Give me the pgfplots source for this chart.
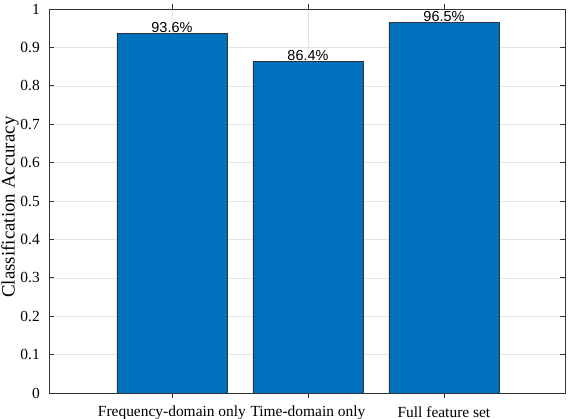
\documentclass[border=0pt]{standalone}
\usepackage{pgfplots}
\pgfplotsset{compat=1.18}
\usepackage{fontspec}
\setmainfont{Liberation Serif}
\newfontfamily\arialfont{Liberation Sans}
\definecolor{mblue}{RGB}{0,114,189}
\definecolor{mgrid}{RGB}{228,228,228}
\begin{document}
\begin{tikzpicture}[x=1bp,y=1bp]
\begin{axis}[
  at={(0,0)}, anchor=south west,
  scale only axis, width=516bp, height=384bp,
  xmin=0.096, xmax=3.89, ymin=0, ymax=1,
  xtick={1,2,3},
  xticklabels={Frequency-domain only,Time-domain only,Full feature set},
  ytick={0,0.1,...,1.0},
  yticklabels={0,0.1,0.2,0.3,0.4,0.5,0.6,0.7,0.8,0.9,1},
  tick align=inside,
  tick pos=both,
  major tick length=5bp,
  ymajorgrids, xmajorgrids,
  grid style={mgrid, line width=0.5bp},
  axis line style={line width=0.6bp, black!80},
  every tick/.style={black!80, line width=0.6bp},
  tick label style={font=\fontsize{15.5}{17}\selectfont},
  xticklabel style={inner sep=0pt, yshift=-8bp, anchor=north},
  yticklabel style={inner sep=0pt, xshift=-9bp, anchor=east},
  ylabel={Classification Accuracy},
  ylabel style={font=\fontsize{19}{21}\selectfont, at={(axis description cs:-0.093,0.484)}, anchor=north, inner sep=0pt},
  /pgf/number format/assume math mode=true,
  ybar, bar width=110bp,
  nodes near coords={\pgfmathprintnumber[fixed,precision=1]{\pgfplotspointmeta}\%},
  point meta=explicit,
  every node near coord/.append style={font=\arialfont\fontsize{14.5}{16}\selectfont, inner sep=0pt, anchor=south, yshift=0.5bp},
]
\addplot[fill=mblue, draw=black!80, line width=0.6bp] coordinates {(1,0.936) [93.6] (2,0.864) [86.4] (3,0.965) [96.5]};
\end{axis}
\pgfresetboundingbox
\path (-49bp,-26bp) rectangle (520bp,393bp);
\end{tikzpicture}
\end{document}
